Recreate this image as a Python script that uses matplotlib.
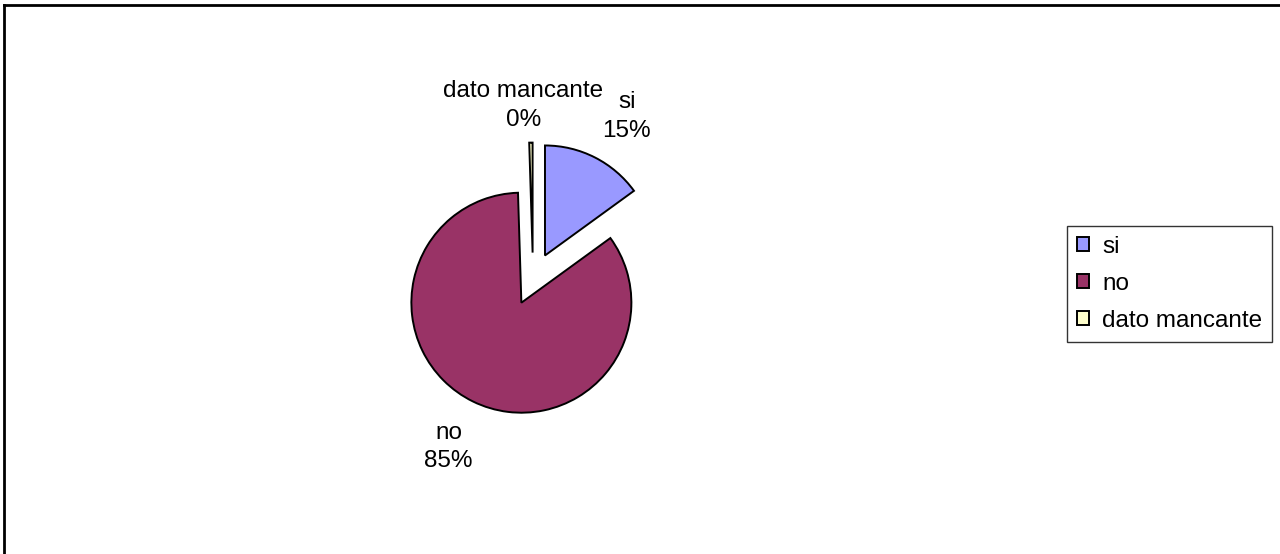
import matplotlib
matplotlib.use("Agg")
import math
import matplotlib.pyplot as plt
from matplotlib.lines import Line2D

# --- data ---
categories = ["si", "no", "dato mancante"]
values = [15.0, 84.51, 0.49]
pct_labels = ["15%", "85%", "0%"]
colors = ["#9999FF", "#993366", "#FFFFCC"]

plt.rcParams['font.family'] = ['Liberation Sans', 'DejaVu Sans']

W, H = 1280, 554
fig = plt.figure(figsize=(W / 100, H / 100), dpi=100)
ax = fig.add_axes([0, 0, 1, 1])

radius = 110
center = (533, H - 279)
explode = [0.24 * radius] * len(values)

wedges, _ = ax.pie(values, colors=colors, radius=radius, center=center,
                   explode=explode, startangle=90, counterclock=False,
                   wedgeprops=dict(edgecolor='black', linewidth=1.4),
                   frame=True)
ax.set_xlim(0, W)
ax.set_ylim(0, H)
ax.set_aspect('equal')
ax.axis('off')

# data labels (Excel-style "name / percent" blocks around the pie)
label_dist = [1.42, 1.46, 1.34]
x_nudge = [11, -2, -7]
for w, cat, pct, d, dx in zip(wedges, categories, pct_labels, label_dist, x_nudge):
    thetam = math.radians((w.theta1 + w.theta2) / 2)
    cx, cy = w.center
    x = cx + d * radius * math.cos(thetam) + dx
    y = cy + d * radius * math.sin(thetam)
    ax.text(x, y, f"{cat}\n{pct}", ha='center', va='center',
            multialignment='center', fontsize=17.5, linespacing=1.4)

# legend
leg = fig.legend(wedges, categories, loc='upper left',
                 bbox_to_anchor=(1067 / W, 1 - 226 / H),
                 fontsize=17.5, frameon=True, fancybox=False,
                 edgecolor='black', handlelength=0.5, handleheight=0.5,
                 handletextpad=0.55, labelspacing=0.62, borderpad=0.4,
                 borderaxespad=0)
leg.get_frame().set_linewidth(1.0)

# chart area border (left and top only visible)
fig.add_artist(Line2D([4 / W, 4 / W], [0, 1 - 5 / H], color='black', linewidth=2,
                      transform=fig.transFigure))
fig.add_artist(Line2D([4 / W, 1], [1 - 5 / H, 1 - 5 / H], color='black', linewidth=2,
                      transform=fig.transFigure))

fig.savefig("out.png", dpi=100)
